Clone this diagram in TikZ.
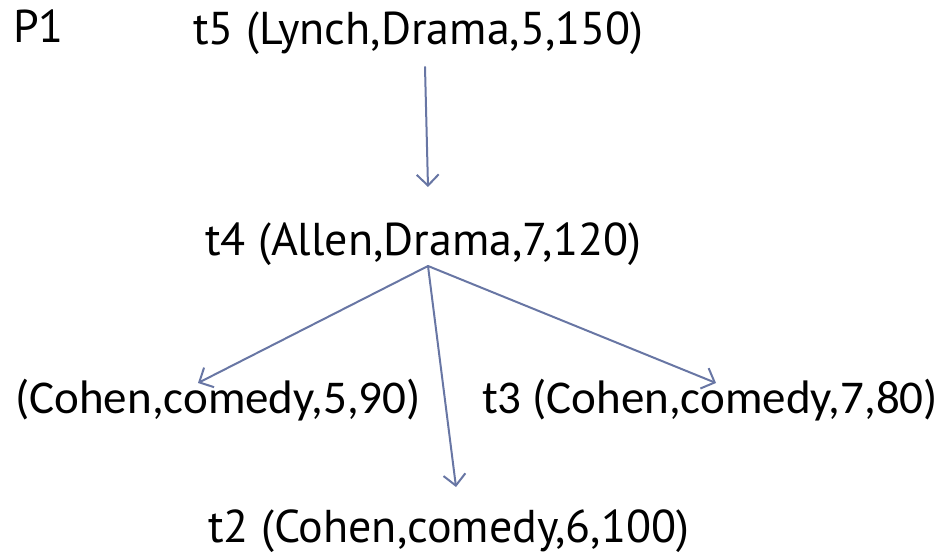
\documentclass[tikz,border=0pt]{standalone}
\usepackage{fontspec}
\setmainfont{PT Sans}
\newfontfamily\cohenfont{Carlito}
\usetikzlibrary{arrows.meta}

\definecolor{arrowblue}{RGB}{104,118,164}

\begin{document}
\begin{tikzpicture}[x=1pt,y=-1pt,line cap=round,line join=round,
    tupla/.style={anchor=base west,inner sep=0pt,font=\fontsize{46}{54}\selectfont},
    tuplab/.style={tupla,font=\cohenfont\fontsize{47}{56}\selectfont},
    flecha/.style={arrowblue,line width=2pt,-{Straight Barb[length=11pt,width=22pt,line width=2pt]}}]
        % Marco de la figura
        \useasboundingbox (0,0) rectangle (950,556);

        % Tuplas de la partición
        \node[tupla] (p1) at (13,43) {P1};
        \node[tupla] (t5) at (193,45) {t5 (Lynch,Drama,5,150)};
        \node[tupla] (t4) at (205,255) {t4 (Allen,Drama,7,120)};
        \node[tuplab] (t1) at (15,413) {(Cohen,comedy,5,90)};
        \node[tuplab] (t3) at (482,413) {t3 (Cohen,comedy,7,80)};
        \node[tupla] (t2) at (208,542) {t2 (Cohen,comedy,6,100)};

        % Puntos de salida y llegada de las flechas
        \coordinate (s5) at (425,67);
        \coordinate (e4) at (428,187);
        \coordinate (s4) at (428,266);
        \coordinate (e1) at (198,383);
        \coordinate (e2) at (456,487);
        \coordinate (e3) at (716,383);

        % Flechas
        \draw[flecha] (s5) -- (e4);
        \draw[flecha] (s4) -- (e1);
        \draw[flecha] (s4) -- (e2);
        \draw[flecha] (s4) -- (e3);
    \end{tikzpicture}
\end{document}
